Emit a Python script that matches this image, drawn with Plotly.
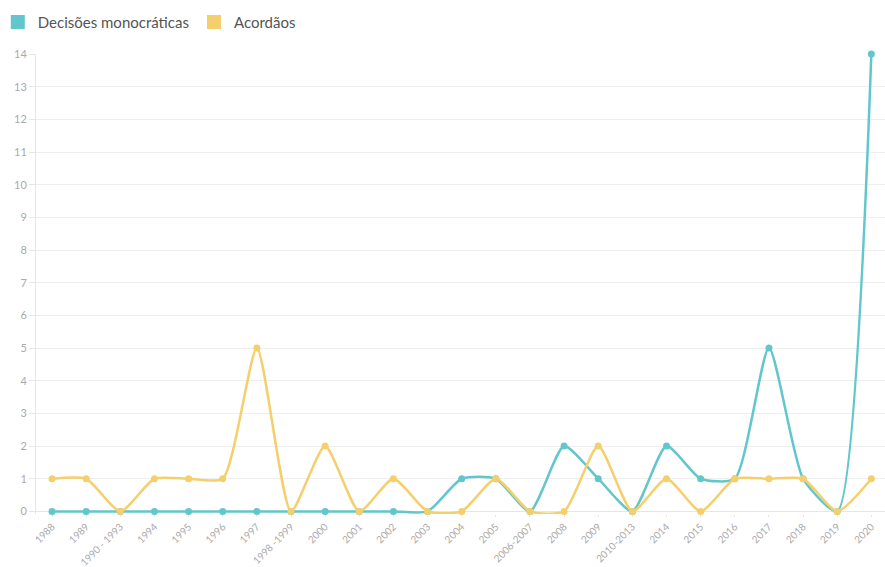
import plotly.graph_objects as go

categories = ["1988", "1989", "1990 - 1993", "1994", "1995", "1996", "1997", "1998 -1999",
              "2000", "2001", "2002", "2003", "2004", "2005", "2006-2007", "2008", "2009",
              "2010-2013", "2014", "2015", "2016", "2017", "2018", "2019", "2020"]
decisoes = [0, 0, 0, 0, 0, 0, 0, 0, 0, 0, 0, 0, 1, 1, 0, 2, 1, 0, 2, 1, 1, 5, 1, 0, 14]
acordaos = [1, 1, 0, 1, 1, 1, 5, 0, 2, 0, 1, 0, 0, 1, 0, 0, 2, 0, 1, 0, 1, 1, 1, 0, 1]
y_ticks = list(range(0, 15))

TEAL = "#62c6cd"
YELLOW = "#f5cf6c"

fig = go.Figure()
for name, vals, color in [("Decisões monocráticas", decisoes, TEAL), ("Acordãos", acordaos, YELLOW)]:
    fig.add_trace(go.Scatter(
        x=categories, y=vals, mode="lines+markers", name=name,
        line=dict(color=color, width=2.5, shape="spline", smoothing=0.6),
        marker=dict(color=color, size=7), cliponaxis=False, showlegend=False,
    ))
    # square legend swatch
    fig.add_trace(go.Scatter(
        x=[None], y=[None], mode="markers", name=name,
        marker=dict(color=color, size=14, symbol="square"),
    ))

fig.update_layout(
    width=885, height=567,
    margin=dict(l=36, r=0, t=54, b=53, autoexpand=False),
    paper_bgcolor="white", plot_bgcolor="white",
    font=dict(family="Lato, sans-serif", color="#999999"),
    legend=dict(orientation="h", x=-0.045, y=0.99, xanchor="left", yanchor="top",
                yref="container", xref="paper",
                font=dict(size=15, color="#555555"), itemwidth=30, tracegroupgap=0),
    xaxis=dict(type="category", range=[-0.47, 24.4], tickangle=-45,
               tickfont=dict(size=10, color="#aaaaaa"), showgrid=False,
               showline=False, ticks="outside", ticklen=2, tickcolor="#e6e6e6"),
    yaxis=dict(range=[-0.08, 14], tickvals=y_ticks, tickfont=dict(size=11, color="#aaaaaa"),
               showgrid=True, gridcolor="#eeeeee", zeroline=True, zerolinecolor="#e6e6e6",
               zerolinewidth=1, showline=True, linecolor="#e6e6e6", linewidth=1,
               ticks="outside", ticklen=6, tickcolor="#e6e6e6"),
)

fig.write_html("out.html")
